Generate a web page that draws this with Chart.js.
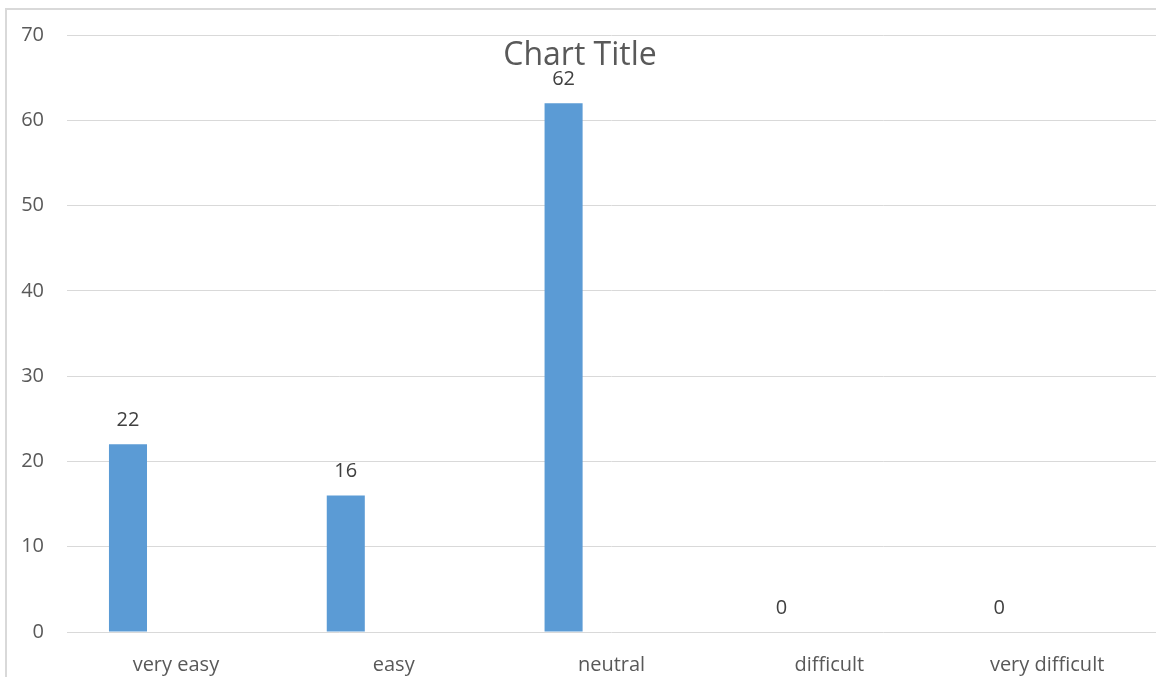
<!DOCTYPE html>
<html>
<head>
<meta charset="utf-8">
<script src="https://cdn.jsdelivr.net/npm/chart.js@4/dist/chart.umd.min.js"></script>
<style>
  html, body { margin: 0; padding: 0; background: #fff; overflow: hidden; }
  #wrap { position: absolute; left: 0; top: 0; width: 1156px; height: 677px; overflow: hidden; }
  #frame { position: absolute; left: 5px; top: 8px; width: 1200px; height: 700px;
           border-top: 2px solid #d9d9d9; border-left: 2px solid #d9d9d9; }
</style>
</head>
<body>
<div id="wrap">
  <div id="frame"></div>
  <canvas id="chart"></canvas>
</div>
<script>
const categories = ["very easy", "easy", "neutral", "difficult", "very difficult"];
const series1 = [22, 16, 62, 0, 0];
const series2 = [null, null, null, null, null];
const yTicks = [0, 10, 20, 30, 40, 50, 60, 70];
const chartTitle = "Chart Title";

const FONT = "'Open Sans', 'DejaVu Sans', sans-serif";

// value labels above the bars of the first series
const barLabels = {
  id: "barLabels",
  afterDatasetsDraw(chart) {
    const ctx = chart.ctx;
    const meta = chart.getDatasetMeta(0);
    ctx.save();
    ctx.font = "20px " + FONT;
    ctx.fillStyle = "#404040";
    ctx.textAlign = "center";
    ctx.textBaseline = "middle";
    meta.data.forEach((bar, i) => {
      ctx.fillText(String(series1[i]), bar.x, bar.y - 24);
    });
    ctx.restore();
  }
};

// title sits over the plot area like in the original
const overlayTitle = {
  id: "overlayTitle",
  afterDraw(chart) {
    const ctx = chart.ctx;
    ctx.save();
    ctx.font = "32px " + FONT;
    ctx.fillStyle = "#595959";
    ctx.textAlign = "center";
    ctx.textBaseline = "middle";
    ctx.fillText(chartTitle, chart.width / 2 + 2, 56);
    ctx.restore();
  }
};

new Chart(document.getElementById("chart"), {
  type: "bar",
  data: {
    labels: categories,
    datasets: [
      { label: "Series1", data: series1, backgroundColor: "#5b9bd5", borderWidth: 0 },
      { label: "Series2", data: series2, backgroundColor: "#ed7d31", borderWidth: 0 }
    ]
  },
  options: {
    responsive: true,
    maintainAspectRatio: false,
    animation: false,
    categoryPercentage: 0.88,
    barPercentage: 0.397,
    layout: { padding: { top: 34, left: 0, right: 0, bottom: 0 } },
    plugins: {
      legend: { display: false },
      title: { display: false },
      tooltip: { enabled: false }
    },
    scales: {
      x: {
        grid: { display: false, drawTicks: false },
        border: { display: false },
        ticks: { color: "#595959", font: { family: FONT, size: 20 }, padding: 21, maxRotation: 0 },
        afterFit(scale) { scale.height = 45; }
      },
      y: {
        min: 0,
        max: 70,
        afterBuildTicks(scale) { scale.ticks = yTicks.map(v => ({ value: v })); },
        grid: { color: "#d9d9d9", lineWidth: 1, drawTicks: false },
        border: { display: false },
        ticks: { color: "#595959", font: { family: FONT, size: 20 }, padding: 23 },
        afterFit(scale) { scale.width = 67; }
      }
    }
  },
  plugins: [barLabels, overlayTitle]
});
</script>
</body>
</html>
